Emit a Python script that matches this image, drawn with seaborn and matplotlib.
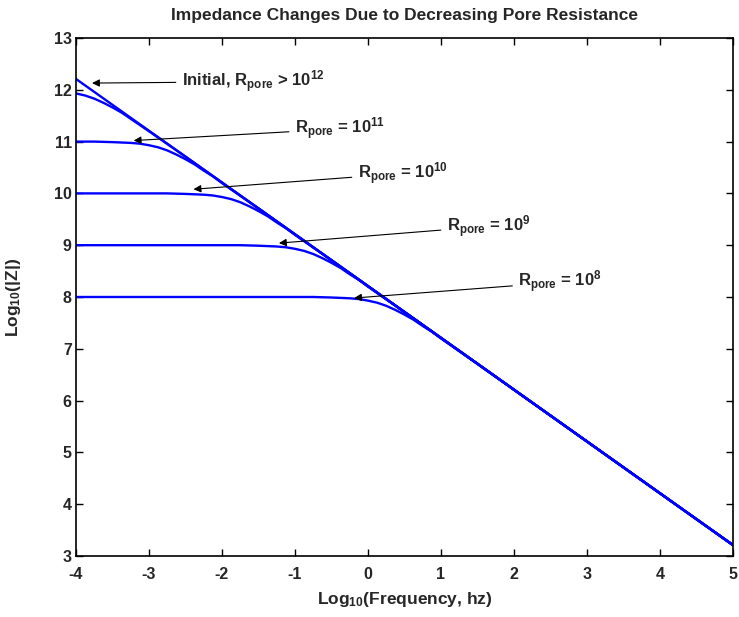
import matplotlib
matplotlib.use("Agg")
import matplotlib.pyplot as plt
import seaborn as sns
import pandas as pd

# ---- data ----
x_initial = [-4.0, -3.0, -2.0, -1.0, 0.0, 1.0, 2.0, 3.0, 4.0, 5.0]
y_initial = [12.21, 11.21, 10.21, 9.21, 8.21, 7.21, 6.21, 5.21, 4.21, 3.21]

x_r12 = [-4.0, -3.875, -3.75, -3.625, -3.5, -3.375, -3.25, -3.0, -2.5, -2.0, 0.0, 2.0, 5.0]
y_r12 = [11.93, 11.89, 11.83, 11.75, 11.66, 11.56, 11.44, 11.20, 10.71, 10.21, 8.21, 6.21, 3.21]

x_r11 = [-4.0, -3.75, -3.5, -3.25, -3.125, -3.0, -2.875, -2.75, -2.625, -2.5, -2.375, -2.25, -2.125, -2.0, -1.5, -1.0, 1.0, 5.0]
y_r11 = [11.00, 11.00, 10.99, 10.975, 10.96, 10.93, 10.89, 10.83, 10.75, 10.66, 10.56, 10.44, 10.33, 10.20, 9.71, 9.21, 7.21, 3.21]

x_r10 = [-4.0, -3.0, -2.75, -2.5, -2.25, -2.125, -2.0, -1.875, -1.75, -1.625, -1.5, -1.375, -1.25, -1.125, -1.0, -0.5, 0.0, 2.0, 5.0]
y_r10 = [10.00, 10.00, 10.00, 9.99, 9.975, 9.96, 9.93, 9.89, 9.83, 9.75, 9.66, 9.56, 9.44, 9.33, 9.20, 8.71, 8.21, 6.21, 3.21]

x_r9 = [-4.0, -2.0, -1.75, -1.5, -1.25, -1.125, -1.0, -0.875, -0.75, -0.625, -0.5, -0.375, -0.25, -0.125, 0.0, 0.5, 1.0, 3.0, 5.0]
y_r9 = [9.00, 9.00, 9.00, 8.99, 8.975, 8.96, 8.93, 8.89, 8.83, 8.75, 8.66, 8.56, 8.44, 8.33, 8.20, 7.71, 7.21, 5.21, 3.21]

x_r8 = [-4.0, -1.0, -0.75, -0.5, -0.25, -0.125, 0.0, 0.125, 0.25, 0.375, 0.5, 0.625, 0.75, 0.875, 1.0, 1.5, 2.0, 4.0, 5.0]
y_r8 = [8.00, 8.00, 8.00, 7.99, 7.975, 7.96, 7.93, 7.89, 7.83, 7.75, 7.66, 7.56, 7.44, 7.33, 7.20, 6.71, 6.21, 4.21, 3.21]

labels = [r"Initial, R$_{pore}$ > 10$^{12}$", r"R$_{pore}$ = 10$^{11}$",
          r"R$_{pore}$ = 10$^{10}$", r"R$_{pore}$ = 10$^{9}$", r"R$_{pore}$ = 10$^{8}$"]
arrow_tips = [(-3.78, 12.13), (-3.21, 11.02), (-2.39, 10.08), (-1.22, 9.04), (-0.19, 7.98)]
text_pos = [(-2.55, 12.06), (-1.00, 11.15), (-0.14, 10.29), (1.08, 9.27), (2.06, 8.19)]

x_ticks = [-4, -3, -2, -1, 0, 1, 2, 3, 4, 5]
y_ticks = [3, 4, 5, 6, 7, 8, 9, 10, 11, 12, 13]

# ---- style ----
sns.set_theme(style="ticks")
plt.rcParams["font.family"] = ["Liberation Sans", "DejaVu Sans"]
plt.rcParams["font.weight"] = "bold"
plt.rcParams["mathtext.fontset"] = "custom"
plt.rcParams["mathtext.rm"] = "Liberation Sans:bold"
plt.rcParams["mathtext.it"] = "Liberation Sans:bold"
plt.rcParams["mathtext.bf"] = "Liberation Sans:bold"
plt.rcParams["mathtext.default"] = "rm"

fig = plt.figure(figsize=(7.39, 6.17), dpi=100)
fig.patch.set_facecolor("white")
ax = fig.add_axes([0.1028, 0.0989, 0.8891, 0.8395])
ax.set_facecolor("white")

series = [(x_initial, y_initial), (x_r12, y_r12), (x_r11, y_r11),
          (x_r10, y_r10), (x_r9, y_r9), (x_r8, y_r8)]
for xs, ys in series:
    df = pd.DataFrame({"x": xs, "y": ys})
    sns.lineplot(data=df, x="x", y="y", ax=ax, color="#0000ff", lw=1.7,
                 sort=False, estimator=None)

for lab, tip, pos in zip(labels, arrow_tips, text_pos):
    ax.annotate(lab, xy=tip, xytext=pos, ha="left", va="baseline",
                fontsize=12, fontweight="bold",
                arrowprops=dict(arrowstyle="-|>", color="black", lw=0.8,
                                shrinkA=2, shrinkB=0, mutation_scale=11))

ax.set_xlim(-4, 5)
ax.set_ylim(3, 13)
ax.set_xticks(x_ticks)
ax.set_yticks(y_ticks)
ax.set_xticklabels([str(v) for v in x_ticks], fontsize=11.5, fontweight="bold")
ax.set_yticklabels([str(v) for v in y_ticks], fontsize=11.5, fontweight="bold")
ax.tick_params(axis="both", direction="in", length=5, width=1, color="black",
               top=True, right=True)
ax.tick_params(axis="x", pad=8)
ax.tick_params(axis="y", pad=3)
for s in ax.spines.values():
    s.set_color("black")
    s.set_linewidth(1.2)
    s.set_visible(True)

ax.set_xlabel(r"Log$_{10}$(Frequency, hz)", fontsize=12.5, fontweight="bold")
ax.set_ylabel(r"Log$_{10}$(|Z|)", fontsize=12.5, fontweight="bold")
ax.xaxis.set_label_coords(0.5, -0.066)
ax.yaxis.set_label_coords(-0.081, 0.5)
ax.text(0.5, 1.044, "Impedance Changes Due to Decreasing Pore Resistance",
        transform=ax.transAxes, ha="center", va="center", fontsize=12.5,
        fontweight="bold")

fig.savefig("out.png", dpi=100, facecolor="white")
